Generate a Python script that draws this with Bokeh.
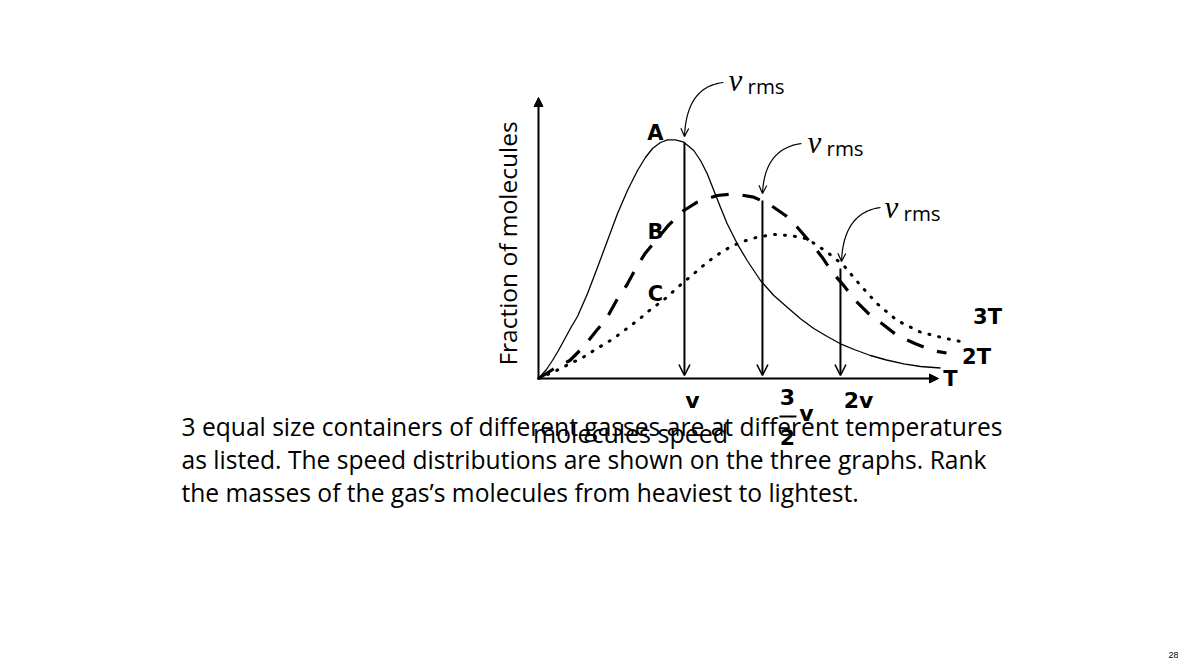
import numpy as np
from bokeh.plotting import figure
from bokeh.models import Range1d, Arrow, OpenHead, NormalHead, ColumnDataSource
from bokeh.core.properties import value
from bokeh.embed import file_html
from bokeh.resources import INLINE

# ---------------- data (speed in units of v, fraction in arbitrary units) ----------------
speed_A = [0.0, 0.053, 0.093, 0.133, 0.18, 0.22, 0.26, 0.327, 0.393, 0.46, 0.527, 0.593,
           0.66, 0.713, 0.76, 0.813, 0.86, 0.913, 0.969, 1.035, 1.08, 1.125,
           1.169, 1.213, 1.258, 1.325, 1.391, 1.48, 1.569, 1.658, 1.747, 1.835, 1.925, 2.013,
           2.113, 2.213, 2.32, 2.435, 2.547, 2.68]
frac_A = [0.0, 0.09, 0.18, 0.28, 0.41, 0.52, 0.62, 0.85, 1.11, 1.38, 1.65, 1.88,
          2.08, 2.21, 2.30, 2.36, 2.387, 2.387, 2.363, 2.28, 2.18, 2.047,
          1.88, 1.713, 1.547, 1.347, 1.18, 0.98, 0.83, 0.713, 0.597, 0.50, 0.42, 0.347,
          0.285, 0.23, 0.185, 0.147, 0.12, 0.105]

speed_B = [0.0, 0.10, 0.209, 0.298, 0.387, 0.453, 0.52, 0.587, 0.653, 0.709, 0.82, 0.865,
           0.969, 1.058, 1.191, 1.302, 1.435, 1.535, 1.647, 1.725, 1.802, 1.891, 1.958, 2.035,
           2.113, 2.202, 2.291, 2.391, 2.513, 2.625, 2.72]
frac_B = [0.0, 0.095, 0.18, 0.313, 0.48, 0.597, 0.78, 0.93, 1.113, 1.247, 1.447, 1.53,
          1.68, 1.763, 1.83, 1.847, 1.813, 1.747, 1.63, 1.513, 1.38, 1.213, 1.063, 0.93,
          0.78, 0.647, 0.547, 0.43, 0.347, 0.28, 0.255]

speed_C = [0.0, 0.12, 0.209, 0.298, 0.387, 0.498, 0.587, 0.675, 0.753, 0.831, 0.942, 1.035,
           1.125, 1.235, 1.347, 1.458, 1.569, 1.68, 1.791, 1.925, 2.035, 2.147, 2.258, 2.391,
           2.547, 2.725, 2.835]
frac_C = [0.0, 0.08, 0.147, 0.213, 0.297, 0.397, 0.497, 0.597, 0.697, 0.78, 0.93, 1.047,
          1.163, 1.28, 1.363, 1.413, 1.44, 1.43, 1.397, 1.263, 1.13, 0.93, 0.747, 0.58,
          0.463, 0.397, 0.363]

rms_speed = [0.973, 1.493, 2.013]          # v, 3/2 v, 2v
rms_height = [2.36, 1.78, 1.10]
curve_names = ["A", "B", "C"]
temp_labels = ["T", "2T", "3T"]
tick_labels = ["v", "3/2 v", "2v"]

# ---------------- helpers: pixel offsets on the slide -> data units ----------------
def X(px):
    return (px - 538.0) / 150.0

def Y(py):
    return (378.0 - py) / 100.0

W, H = 1178, 659
p = figure(width=W, height=H, output_backend="svg", toolbar_location=None,
           x_range=Range1d(X(0), X(W)), y_range=Range1d(Y(H), Y(0)),
           x_axis_type=None, y_axis_type=None, min_border=0)
p.outline_line_color = None
p.grid.visible = False
p.background_fill_color = "white"
p.border_fill_color = "white"

BOLD = value("DejaVu Sans")
SANS = value("Open Sans")

# axes with arrow heads
p.add_layout(Arrow(x_start=0, y_start=0, x_end=X(938), y_end=0, line_width=2,
                   end=NormalHead(size=9, fill_color="black", line_color="black")))
p.add_layout(Arrow(x_start=0, y_start=0, x_end=0, y_end=Y(97), line_width=2,
                   end=NormalHead(size=9, fill_color="black", line_color="black")))

# curves
p.line(speed_A, frac_A, line_color="black", line_width=1.3, line_join="round")
p.line(speed_B, frac_B, line_color="black", line_width=3.2, line_dash="18 14")
p.line(speed_C, frac_C, line_color="black", line_width=3, line_dash="1 9", line_cap="round")

# vertical rms arrows
src = ColumnDataSource(dict(x=rms_speed, top=rms_height, bottom=[Y(375)] * 3))
p.add_layout(Arrow(x_start="x", y_start="top", x_end="x", y_end="bottom", source=src,
                   line_width=2, end=OpenHead(size=11, line_width=1.6)))

# curved pointer arrows from the v_rms labels
def curved_arrow(s, c, e):
    t = np.linspace(0, 1, 40)
    xs = (1 - t) ** 2 * s[0] + 2 * (1 - t) * t * c[0] + t ** 2 * e[0]
    ys = (1 - t) ** 2 * s[1] + 2 * (1 - t) * t * c[1] + t ** 2 * e[1]
    p.line([X(v) for v in xs], [Y(v) for v in ys], line_color="black", line_width=1.2)
    d = np.array([e[0] - c[0], e[1] - c[1]], dtype=float)
    d /= np.hypot(*d)
    for ang in (0.45, -0.45):
        r = np.array([[np.cos(ang), -np.sin(ang)], [np.sin(ang), np.cos(ang)]]) @ d
        bx, by = e[0] - 9 * r[0], e[1] - 9 * r[1]
        p.line([X(bx), X(e[0])], [Y(by), Y(e[1])], line_color="black", line_width=1.2)

curved_arrow((723, 82), (686, 86), (684, 136))
curved_arrow((801, 143), (764, 148), (762, 193))
curved_arrow((880, 207), (843, 212), (841, 261))

# v_rms labels
for vx, vy in [(728, 80), (807, 142), (884, 207)]:
    p.text([X(vx)], [Y(vy)], text=["v"], text_font=value("Liberation Serif"),
           text_font_style="italic", text_font_size="31px", text_align="left",
           text_baseline="middle")
    p.text([X(vx + 19)], [Y(vy + 5)], text=["rms"], text_font=SANS,
           text_font_size="20.5px", text_align="left", text_baseline="middle")

# curve letters
p.text([X(655), X(655), X(655)], [Y(132), Y(231), Y(293)], text=curve_names,
       text_font=BOLD, text_font_style="bold", text_font_size="21px",
       text_align="center", text_baseline="middle")

# temperature labels
p.text([X(950), X(976), X(987)], [Y(378), Y(356), Y(316)], text=temp_labels,
       text_font=BOLD, text_font_style="bold", text_font_size="21px",
       text_align="center", text_baseline="middle")

# tick labels under the axis
p.text([X(rms_speed[0] * 150 + 538 + 8), X(rms_speed[2] * 150 + 538 + 18)], [Y(400), Y(400)],
       text=[tick_labels[0], tick_labels[2]], text_font=BOLD, text_font_style="bold",
       text_font_size="22px", text_align="center", text_baseline="middle")
p.text([X(787), X(787), X(806)], [Y(396), Y(436), Y(413)], text=["3", "2", "v"],
       text_font=BOLD, text_font_style="bold", text_font_size="22px",
       text_align="center", text_baseline="middle")
p.line([X(779), X(796)], [Y(416), Y(416)], line_color="black", line_width=2)

# axis titles
p.text([X(630)], [Y(432)], text=["molecules speed"], text_font=SANS,
       text_font_size="25px", text_align="center", text_baseline="middle")
p.text([X(507)], [Y(243)], text=["Fraction of molecules"], text_font=SANS,
       text_font_size="24.5px", text_align="center", text_baseline="middle", angle=np.pi / 2)

# slide body text
lines = ["3 equal size containers of different gasses are at different temperatures",
         "as listed. The speed distributions are shown on the three graphs. Rank",
         "the masses of the gas\u2019s molecules from heaviest to lightest."]
p.text([X(181)] * 3, [Y(426), Y(459), Y(492)], text=lines, text_font=SANS,
       text_font_size="24.6px", text_align="left", text_baseline="middle")

# page number
p.text([X(1173)], [Y(654)], text=["28"], text_font=value("Liberation Sans"),
       text_font_size="9px", text_align="center", text_baseline="middle")

open("out.html", "w").write(file_html(p, INLINE))
